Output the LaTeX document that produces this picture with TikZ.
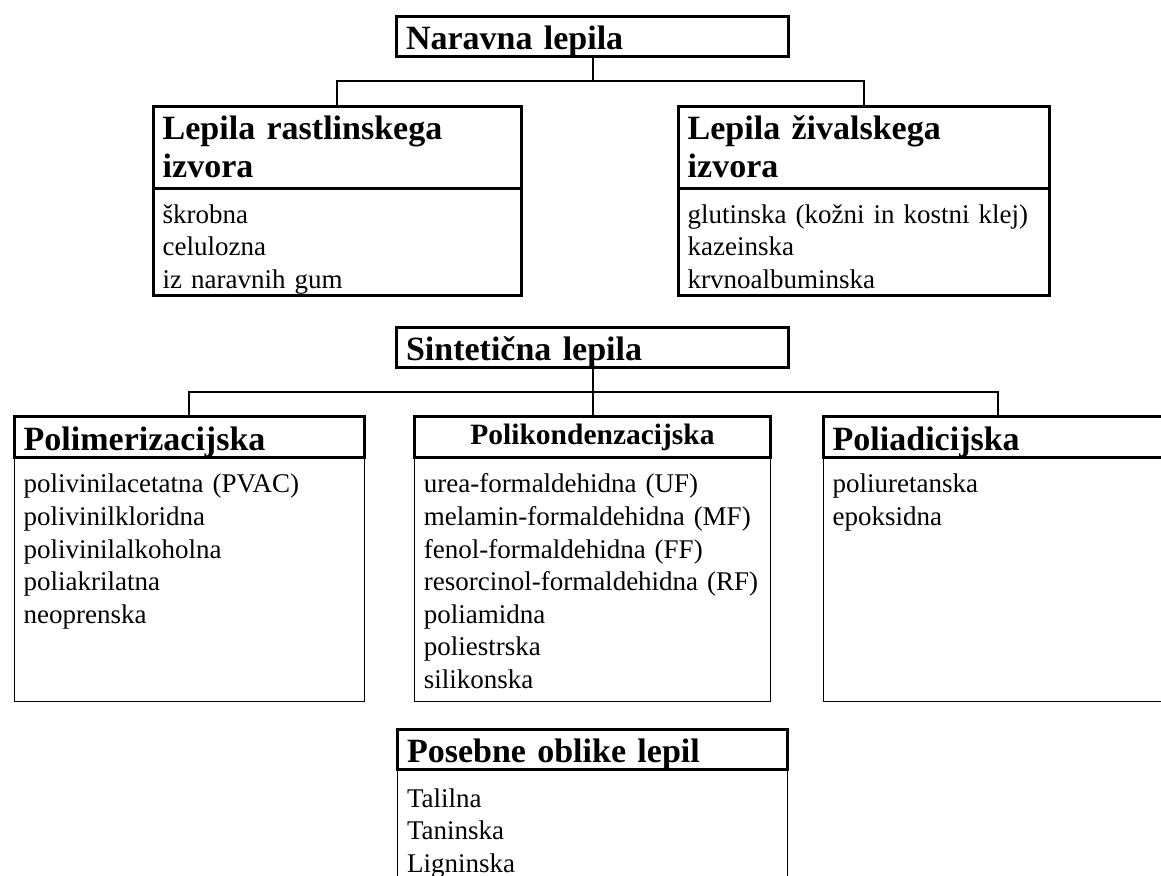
\documentclass[tikz,border=0pt]{standalone}
\usepackage{fontspec}
\setmainfont{Liberation Serif}
\usetikzlibrary{positioning}

\newcommand\headfont{\fontsize{34}{38}\selectfont\bfseries}
\newcommand\listfont{\fontsize{27}{32.6}\selectfont}

\tikzset{
  head/.style={draw, line width=3pt, anchor=north west, outer sep=0pt,
    inner xsep=9.5pt, inner ysep=0pt, align=left, font=\headfont},
  list/.style={draw, line width=3pt, outer sep=0pt, inner xsep=9.5pt,
    inner ysep=0pt, align=left, font=\listfont},
  thinlist/.style={list, line width=0.9pt},
  link/.style={line width=2pt}
}

\begin{document}
\begin{tikzpicture}[x=1pt, y=-1pt]
    \useasboundingbox (0,0) rectangle (1161,875);

    % naravna lepila
    \node (naravna) [head, text width=373pt, text height=32.5pt,
    text depth=7.5pt] at (396.5,16.5) {Naravna lepila};

    \node (rastl) [head, text width=349pt, text height=32.5pt,
    text depth=49pt] at (153.2,106.5) {Lepila rastlinskega\\ izvora};
    \node (rastlb) [list, below=0pt of rastl, text width=349pt,
    text height=35pt, text depth=72.5pt] {škrobna\\ celulozna\\ iz naravnih gum};

    \node (ziv) [head, text width=352.3pt, text height=32.5pt,
    text depth=49pt] at (678.2,106.5) {Lepila živalskega\\ izvora};
    \node (zivb) [list, below=0pt of ziv, text width=352.3pt,
    text height=35pt, text depth=72.5pt] {glutinska (kožni in kostni klej)\\
      kazeinska\\ krvnoalbuminska};

    \coordinate (nj) at ([yshift=-24.5pt]naravna.south);
    \path[link] (naravna.south) edge (nj);
    \draw[link] (rastl.north) |- (nj) -| (ziv.north);

    % sinteticna lepila
    \node (sint) [head, text width=373pt, text height=32.5pt,
    text depth=7.5pt] at (396.5,327.5) {Sintetična lepila};

    \node (polim) [head, text width=331pt, text height=33.5pt,
    text depth=7.8pt] at (14.2,416.5) {Polimerizacijska};
    \node (polimb) [thinlist, below=0pt of polim, text width=331pt,
    text height=35pt, text depth=208.5pt] {polivinilacetatna (PVAC)\\
      polivinilkloridna\\ polivinilalkoholna\\ poliakrilatna\\ neoprenska};

    \node (kond) [head, align=center, font=\fontsize{29.5}{32}\selectfont\bfseries,
    text width=337.4pt, text height=27.8pt, text depth=13.5pt]
    at (414.3,416.5) {Polikondenzacijska};
    \node (kondb) [thinlist, below=0pt of kond, text width=337.4pt,
    text height=35pt, text depth=208.4pt] {urea-formaldehidna (UF)\\
      melamin-formaldehidna (MF)\\ fenol-formaldehidna (FF)\\
      resorcinol-formaldehidna (RF)\\ poliamidna\\ poliestrska\\ silikonska};

    \node (adic) [head, text width=331pt, text height=33.5pt,
    text depth=7.8pt] at (823.2,416.5) {Poliadicijska};
    \node (adicb) [thinlist, below=0pt of adic, text width=331pt,
    text height=35pt, text depth=208.5pt] {poliuretanska\\ epoksidna};

    \coordinate (sj) at ([yshift=-24.5pt]sint.south);
    \path[link] (sint.south) edge (kond.north);
    \draw[link] (polim.north) |- (sj) -| (adic.north);

    % posebne oblike
    \node (poseb) [head, text width=371pt, text height=32.5pt,
    text depth=7.2pt] at (397.5,729.5) {Posebne oblike lepil};
    \node (posebb) [thinlist, below=0pt of poseb, text width=371pt,
    text height=37.8pt, text depth=120pt] {Talilna\\ Taninska\\ Ligninska};
\end{tikzpicture}
\end{document}
